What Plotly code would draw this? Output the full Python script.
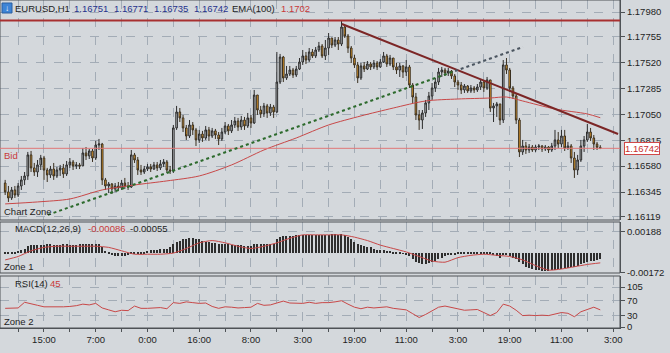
import plotly.graph_objects as go

# ---------------- data ----------------
open0 = 1.16427
close = [1.16346, 1.16291, 1.16364, 1.16318, 1.16400, 1.16455, 1.16491, 1.16682, 1.16564, 1.16527,
         1.16591, 1.16654, 1.16545, 1.16500, 1.16554, 1.16491, 1.16545, 1.16564, 1.16509, 1.16591,
         1.16618, 1.16582, 1.16591, 1.16582, 1.16700, 1.16673, 1.16718, 1.16654, 1.16772, 1.16781,
         1.16455, 1.16400, 1.16418, 1.16373, 1.16400, 1.16382, 1.16427, 1.16400, 1.16391, 1.16682,
         1.16636, 1.16545, 1.16527, 1.16554, 1.16573, 1.16554, 1.16591, 1.16564, 1.16600, 1.16618,
         1.16545, 1.16536, 1.16927, 1.17072, 1.17018, 1.16927, 1.16854, 1.16954, 1.16909, 1.16818,
         1.16872, 1.16836, 1.16909, 1.16854, 1.16900, 1.16863, 1.16827, 1.16890, 1.16945, 1.16900,
         1.16954, 1.16990, 1.16936, 1.16999, 1.16945, 1.17018, 1.16972, 1.17226, 1.17090, 1.17054,
         1.17127, 1.17063, 1.17117, 1.17072, 1.17344, 1.17571, 1.17381, 1.17417, 1.17453, 1.17408,
         1.17462, 1.17526, 1.17581, 1.17544, 1.17617, 1.17581, 1.17635, 1.17671, 1.17581, 1.17653,
         1.17744, 1.17680, 1.17726, 1.17689, 1.17844, 1.17762, 1.17653, 1.17562, 1.17499, 1.17381,
         1.17490, 1.17462, 1.17508, 1.17481, 1.17517, 1.17481, 1.17526, 1.17581, 1.17508, 1.17562,
         1.17481, 1.17453, 1.17490, 1.17435, 1.17481, 1.17317, 1.17208, 1.17045, 1.16999, 1.17063,
         1.17154, 1.17217, 1.17290, 1.17344, 1.17435, 1.17453, 1.17426, 1.17444, 1.17399, 1.17344,
         1.17317, 1.17272, 1.17308, 1.17263, 1.17290, 1.17272, 1.17299, 1.17344, 1.17290, 1.17363,
         1.17108, 1.17127, 1.17145, 1.16999, 1.17499, 1.17453, 1.17290, 1.17217, 1.16999, 1.16709,
         1.16763, 1.16727, 1.16754, 1.16727, 1.16754, 1.16763, 1.16736, 1.16754, 1.16727, 1.16763,
         1.16818, 1.16781, 1.16854, 1.16745, 1.16763, 1.16654, 1.16545, 1.16636, 1.16763, 1.16818,
         1.16890, 1.16836, 1.16781, 1.16751, 1.16742]

high = [1.16455, 1.16400, 1.16391, 1.16400, 1.16427, 1.16491, 1.16527, 1.16709, 1.16718, 1.16609,
        1.16636, 1.16682, 1.16673, 1.16564, 1.16582, 1.16609, 1.16573, 1.16591, 1.16600, 1.16627,
        1.16654, 1.16636, 1.16618, 1.16609, 1.16745, 1.16754, 1.16736, 1.16736, 1.16809, 1.16827,
        1.16791, 1.16473, 1.16436, 1.16427, 1.16427, 1.16436, 1.16455, 1.16473, 1.16436, 1.16727,
        1.16700, 1.16663, 1.16591, 1.16582, 1.16600, 1.16600, 1.16618, 1.16618, 1.16636, 1.16645,
        1.16636, 1.16582, 1.16954, 1.17127, 1.17108, 1.17045, 1.16954, 1.16999, 1.16981, 1.16927,
        1.16909, 1.16900, 1.16945, 1.16936, 1.16927, 1.16918, 1.16890, 1.16927, 1.16981, 1.16963,
        1.16999, 1.17027, 1.17018, 1.17036, 1.17027, 1.17063, 1.17045, 1.17272, 1.17226, 1.17127,
        1.17154, 1.17145, 1.17145, 1.17136, 1.17617, 1.17599, 1.17581, 1.17490, 1.17490, 1.17472,
        1.17490, 1.17562, 1.17635, 1.17617, 1.17653, 1.17644, 1.17662, 1.17708, 1.17689, 1.17726,
        1.17789, 1.17744, 1.17753, 1.17753, 1.17898, 1.17853, 1.17780, 1.17671, 1.17590, 1.17526,
        1.17517, 1.17526, 1.17535, 1.17526, 1.17544, 1.17535, 1.17553, 1.17617, 1.17599, 1.17590,
        1.17562, 1.17517, 1.17517, 1.17499, 1.17544, 1.17499, 1.17335, 1.17245, 1.17090, 1.17090,
        1.17181, 1.17254, 1.17335, 1.17381, 1.17472, 1.17481, 1.17472, 1.17472, 1.17453, 1.17417,
        1.17363, 1.17344, 1.17326, 1.17317, 1.17317, 1.17308, 1.17326, 1.17372, 1.17363, 1.17390,
        1.17363, 1.17154, 1.17163, 1.17145, 1.17544, 1.17562, 1.17472, 1.17308, 1.17235, 1.17018,
        1.16818, 1.16800, 1.16781, 1.16772, 1.16772, 1.16781, 1.16772, 1.16772, 1.16763, 1.16791,
        1.16909, 1.16890, 1.16909, 1.16909, 1.16800, 1.16781, 1.16709, 1.16682, 1.16818, 1.16854,
        1.16963, 1.16927, 1.16863, 1.16800, 1.16771]

low = [1.16318, 1.16255, 1.16273, 1.16291, 1.16300, 1.16364, 1.16409, 1.16455, 1.16527, 1.16491,
       1.16482, 1.16545, 1.16455, 1.16436, 1.16473, 1.16455, 1.16473, 1.16491, 1.16473, 1.16491,
       1.16564, 1.16545, 1.16554, 1.16554, 1.16582, 1.16636, 1.16645, 1.16618, 1.16636, 1.16727,
       1.16409, 1.16364, 1.16337, 1.16327, 1.16346, 1.16355, 1.16364, 1.16373, 1.16364, 1.16382,
       1.16609, 1.16500, 1.16500, 1.16509, 1.16536, 1.16527, 1.16545, 1.16536, 1.16545, 1.16573,
       1.16518, 1.16509, 1.16518, 1.16909, 1.16981, 1.16890, 1.16818, 1.16836, 1.16863, 1.16763,
       1.16791, 1.16800, 1.16818, 1.16809, 1.16836, 1.16827, 1.16772, 1.16809, 1.16872, 1.16863,
       1.16881, 1.16927, 1.16900, 1.16909, 1.16909, 1.16927, 1.16927, 1.16963, 1.17045, 1.17018,
       1.17027, 1.17018, 1.17036, 1.17018, 1.17063, 1.17326, 1.17344, 1.17363, 1.17399, 1.17381,
       1.17390, 1.17453, 1.17499, 1.17508, 1.17526, 1.17562, 1.17562, 1.17617, 1.17562, 1.17544,
       1.17590, 1.17653, 1.17662, 1.17635, 1.17671, 1.17744, 1.17608, 1.17517, 1.17472, 1.17335,
       1.17363, 1.17435, 1.17453, 1.17453, 1.17462, 1.17453, 1.17472, 1.17517, 1.17481, 1.17490,
       1.17453, 1.17417, 1.17390, 1.17381, 1.17399, 1.17290, 1.17154, 1.16999, 1.16909, 1.16918,
       1.17027, 1.17090, 1.17181, 1.17254, 1.17317, 1.17390, 1.17399, 1.17399, 1.17372, 1.17299,
       1.17272, 1.17235, 1.17245, 1.17245, 1.17245, 1.17245, 1.17254, 1.17272, 1.17254, 1.17272,
       1.17072, 1.16981, 1.17027, 1.16954, 1.16972, 1.17417, 1.17254, 1.17190, 1.16963, 1.16663,
       1.16682, 1.16691, 1.16700, 1.16709, 1.16709, 1.16727, 1.16709, 1.16718, 1.16700, 1.16709,
       1.16727, 1.16745, 1.16754, 1.16718, 1.16727, 1.16609, 1.16473, 1.16500, 1.16618, 1.16709,
       1.16800, 1.16809, 1.16727, 1.16727, 1.16735]

ema_idx = [0, 10, 20, 30, 40, 50, 60, 70, 80, 90, 100, 110, 120, 130, 140, 150, 155, 160, 170, 180, 184]
ema_val = [1.16237, 1.16255, 1.16282, 1.16364, 1.16409, 1.16446, 1.16491, 1.16591, 1.16727, 1.16836,
           1.16954, 1.17036, 1.17108, 1.17172, 1.17190, 1.17199, 1.17208, 1.17172, 1.17099, 1.17054, 1.1702]

macd_hist = [0.0001, 0.0001, 0.0001, 0.0001, 0.0002,
             0.0003, 0.0004, 0.0006, 0.0007, 0.0007,
             0.0007, 0.0007, 0.0007, 0.0008, 0.0008, 0.0007, 0.0007, 0.0007, 0.0008, 0.0008,
             0.0007, 0.0007, 0.0007, 0.0008, 0.0008, 0.0008, 0.0008, 0.0008, 0.0008, 0.0008,
             0.0005, 0.0002, 0.00002, -0.0002,
             -0.0003, -0.0003, -0.0003, -0.0003, -0.0002, 0.00002,
             0.0001, 0.0001, 0.00002, 0.0001,
             0.0002, 0.0003, 0.0003, 0.0003, 0.0004, 0.0004, 0.0004,
             0.0005, 0.0008, 0.0010, 0.0011, 0.0012, 0.0012, 0.0013, 0.0013, 0.0012, 0.0012,
             0.0011, 0.0010, 0.0010, 0.0009, 0.0009, 0.0008, 0.0008, 0.0008, 0.0008, 0.0007,
             0.0007, 0.0007, 0.0007, 0.0006, 0.0006,
             0.0006, 0.0008, 0.0008, 0.0008, 0.0008, 0.0008, 0.0008, 0.0008, 0.0012,
             0.0014, 0.0015, 0.0015, 0.0015, 0.0015, 0.0016, 0.0016, 0.0016, 0.0016, 0.0016, 0.0016,
             0.0016, 0.0016, 0.0016, 0.0016, 0.0016, 0.0017, 0.0017, 0.0016, 0.0017, 0.0016,
             0.0014, 0.0012, 0.0010, 0.0008, 0.0007,
             0.0006, 0.0005, 0.0005, 0.0004, 0.0003, 0.0003, 0.0003,
             0.0002, 0.0002, 0.0001, 0.0001, 0.00002, -0.00002, -0.0001,
             -0.0003, -0.0005, -0.0008, -0.0009, -0.0010, -0.0010, -0.0009,
             -0.0008, -0.0007, -0.0005, -0.0004, -0.0003, -0.0002,
             -0.0001, -0.0001, 0.00002, 0.00002, 0.0001, 0.0001, 0.0001, 0.0001, 0.0001, 0.0001,
             0.0001, 0.0001, 0.00002,
             -0.0002, -0.0003, -0.0004, -0.0002, -0.0002, -0.0003, -0.0004, -0.0005,
             -0.0008, -0.0010, -0.0012, -0.0013, -0.0014, -0.0015, -0.0015, -0.0016,
             -0.0016, -0.0016, -0.0015, -0.0015, -0.0014, -0.0014,
             -0.0013, -0.0013, -0.0012, -0.0012, -0.0011, -0.0010, -0.0009, -0.0008, -0.0007,
             -0.0007, -0.0006, -0.00055]

sig_idx = list(range(0, 185, 4))
sig_val = [-0.0006, -0.0003, 0.0002, 0.0005, 0.0006, 0.0006, 0.0006, 0.0006, 0.0005, 0.0002,
           -0.0001, -0.0001, -0.0001, 0.0000, 0.0004, 0.0009, 0.0011, 0.0009, 0.0006, 0.0004,
           0.0006, 0.0009, 0.0013, 0.0016, 0.0016, 0.0016, 0.0016, 0.0014, 0.0011, 0.0007,
           0.0004, 0.0001, -0.0003, -0.0007, -0.0008, -0.0004, -0.0002, -0.0001, -0.0002, -0.0003,
           -0.0006, -0.0011, -0.0015, -0.0014, -0.0012, -0.0010, -0.00086]

rsi_idx = list(range(0, 185, 2))
rsi_val = [49, 49, 50, 65, 60, 57, 53, 53, 52, 53,
           54, 56, 60, 58, 62, 50, 45, 40, 44, 43,
           55, 49, 49, 50, 51, 48, 64, 62, 66, 64,
           62, 63, 54, 49, 53, 52, 50, 51, 52, 62,
           57, 58, 62, 68, 63, 62, 62, 65, 62, 64,
           64, 66, 69, 60, 52, 48, 52, 50, 51, 53,
           49, 47, 45, 35, 25, 33, 42, 52, 55, 51,
           46, 44, 45, 46, 38, 30, 38, 60, 55, 44,
           30, 31, 30, 31, 30, 35, 38, 36, 27, 40,
           45, 52, 45]

price_ticks = [1.17980, 1.17755, 1.17520, 1.17285, 1.17050, 1.16815, 1.16580, 1.16345, 1.16119]
macd_ticks = [0.00188, -0.00172]
rsi_ticks = [105, 70, 30, 0]
time_labels = ["15:00", "7:00", "0:00", "16:00", "8:00", "3:00", "19:00", "11:00",
               "3:00", "19:00", "11:00", "3:00"]
first_label_idx = 12
label_step = 16
grid_step = 8

resistance_level = 1.17903
bid_level = 1.16742
down_trend_x = [104.1, 189.5]
down_trend_y = [1.17871, 1.16872]
up_trend_x = [13.2, 139.1]
up_trend_y = [1.16137, 1.17444]
up_ext_x = [139.1, 160.1]
up_ext_y = [1.17444, 1.17662]

# ---------------- derived ----------------
n = len(close)
xs = list(range(n))
opens = [open0] + close[:-1]
highs = [max(h, o, c) for h, o, c in zip(high, opens, close)]
lows = [min(l, o, c) for l, o, c in zip(low, opens, close)]

W, H = 670, 353
ML, MR, MT, MB = 0, 50, 0, 24
PW, PH = W - ML - MR, H - MT - MB

def pxx(x):
    return x / PW

def pxy(y):
    return (PH - y) / PH

FONT = "Liberation Sans, Arial, sans-serif"
FS = 9.5
BG = "#d4d8dc"
GRID = "#a3acb6"
BORDER = "#4e5256"
RED = "#c83a3a"

fig = go.Figure()

fig.add_trace(go.Scatter(x=ema_idx, y=ema_val, mode="lines", line=dict(color="#c84848", width=1, shape="spline", smoothing=0.8),
                         yaxis="y", xaxis="x", showlegend=False, hoverinfo="skip"))

fig.add_trace(go.Candlestick(x=xs, open=opens, high=highs, low=lows, close=close,
                             increasing=dict(fillcolor="#b9bdc1", line=dict(color="#2b2b2b", width=1)),
                             decreasing=dict(fillcolor="#f0a42c", line=dict(color="#3a3020", width=1)),
                             whiskerwidth=0, yaxis="y", xaxis="x", showlegend=False))

fig.add_trace(go.Bar(x=xs, y=macd_hist, width=0.35, marker=dict(color="#2e2e2e", line=dict(width=0)),
                     yaxis="y2", xaxis="x", showlegend=False))
fig.add_trace(go.Scatter(x=sig_idx, y=sig_val, mode="lines", line=dict(color="#c84848", width=1, shape="spline", smoothing=0.6),
                         yaxis="y2", xaxis="x", showlegend=False))
fig.add_trace(go.Scatter(x=rsi_idx, y=rsi_val, mode="lines", line=dict(color="#c84848", width=1),
                         yaxis="y3", xaxis="x", showlegend=False))

tickvals = list(range(first_label_idx - grid_step, first_label_idx + label_step * (len(time_labels) - 1) + 1, grid_step))
ticktext = []
for v in tickvals:
    k = v - first_label_idx
    ticktext.append(time_labels[k // label_step] if k >= 0 and k % label_step == 0 else "")

axis_common = dict(showgrid=True, gridcolor=GRID, griddash="dash", gridwidth=1, zeroline=False,
                   side="right", ticks="outside", ticklen=4, tickcolor=BORDER,
                   showline=True, linecolor=BORDER, mirror=True, fixedrange=True,
                   tickfont=dict(family=FONT, size=FS, color="#1e1e1e"))

fig.update_layout(
    width=W, height=H, margin=dict(l=ML, r=MR, t=MT, b=MB),
    paper_bgcolor=BG, plot_bgcolor=BG, showlegend=False, bargap=0,
    xaxis=dict(anchor="y3", range=[-1.6, 190.1], tickvals=tickvals, ticktext=ticktext,
               showgrid=True, gridcolor=GRID, griddash="dash", zeroline=False,
               ticks="outside", ticklen=3, tickcolor=BORDER, showline=True, linecolor=BORDER,
               rangeslider=dict(visible=False), fixedrange=True,
               tickfont=dict(family=FONT, size=FS, color="#1e1e1e")),
    yaxis=dict(domain=[pxy(220), 1.0], range=[1.16091, 1.18089], tickvals=price_ticks,
               ticktext=[f"{v:.5f}" for v in price_ticks], **axis_common),
    yaxis2=dict(domain=[pxy(273), pxy(222)], range=[-0.00175, 0.00273], tickvals=macd_ticks,
                ticktext=[f"{v:.5f}" for v in macd_ticks], **axis_common),
    yaxis3=dict(domain=[pxy(328), pxy(276)], range=[-2.6, 133.9], tickvals=rsi_ticks,
                ticktext=[str(v) for v in rsi_ticks], **axis_common),
)

shapes = []
for yr in ["y domain", "y2 domain", "y3 domain"]:
    shapes.append(dict(type="rect", xref="paper", x0=0, x1=1, yref=yr, y0=0, y1=1,
                       line=dict(color=BORDER, width=1), fillcolor="rgba(0,0,0,0)", layer="above"))
shapes.append(dict(type="line", xref="paper", x0=0, x1=1, yref="y", y0=resistance_level, y1=resistance_level,
                   line=dict(color="#a83030", width=2)))
shapes.append(dict(type="line", xref="paper", x0=0, x1=1, yref="y", y0=bid_level, y1=bid_level,
                   line=dict(color="#e07878", width=1)))
shapes.append(dict(type="line", xref="x", yref="y", x0=down_trend_x[0], x1=down_trend_x[1],
                   y0=down_trend_y[0], y1=down_trend_y[1], line=dict(color="#7c2626", width=2)))
shapes.append(dict(type="line", xref="x", yref="y", x0=up_trend_x[0], x1=up_trend_x[1],
                   y0=up_trend_y[0], y1=up_trend_y[1], line=dict(color="#2c6a2c", width=2, dash="dot")))
shapes.append(dict(type="line", xref="x", yref="y", x0=up_ext_x[0], x1=up_ext_x[1],
                   y0=up_ext_y[0], y1=up_ext_y[1], line=dict(color="#4b5560", width=2, dash="dot")))
# header icon
shapes.append(dict(type="rect", xref="paper", yref="paper", x0=pxx(2), x1=pxx(12), y0=pxy(13), y1=pxy(3),
                   fillcolor="#3d84d6", line=dict(color="#2a5fa0", width=1)))
fig.update_layout(shapes=shapes)

BLUE = "#26328c"
DARK = "#1e1e1e"
ann = []

def txt(s, x, y, color=DARK, size=FS):
    ann.append(dict(text=s, xref="paper", yref="paper", x=pxx(x), y=pxy(y), xanchor="left", yanchor="middle",
                    showarrow=False, font=dict(family=FONT, size=size, color=color)))

txt("↓", 3, 8, "#ffffff", 8)
txt("EURUSD,H1", 13, 8)
hdr = [opens[-1], highs[-1], lows[-1], close[-1]]
for i, v in enumerate(hdr):
    txt(f"{v:.5f}", 72 + 40 * i, 8, BLUE)
txt("EMA(100)", 230, 8)
txt(f"{ema_val[-1]:.4f}", 279, 8, RED)
txt("Bid", 2, 155, RED)
txt("Chart Zone", 2, 211)
txt("MACD(12,26,9)", 13, 228)
txt(f"{sig_val[-1]:.5f}", 86, 228, RED)
txt(f"{macd_hist[-1]:.5f}", 128, 228)
txt("Zone 1", 2, 266)
txt("RSI(14)", 13, 283)
txt(f"{rsi_val[-1]}", 48, 283, RED)
txt("Zone 2", 2, 321)

ann.append(dict(text=f"{bid_level:.5f}", xref="paper", yref="y", x=pxx(624), y=bid_level, xanchor="left",
                yanchor="middle", showarrow=False, bgcolor="#ffffff", bordercolor="#d04848", borderwidth=1,
                borderpad=0, font=dict(family=FONT, size=FS, color="#c83030")))
fig.update_layout(annotations=ann)

fig.write_html("out.html")
